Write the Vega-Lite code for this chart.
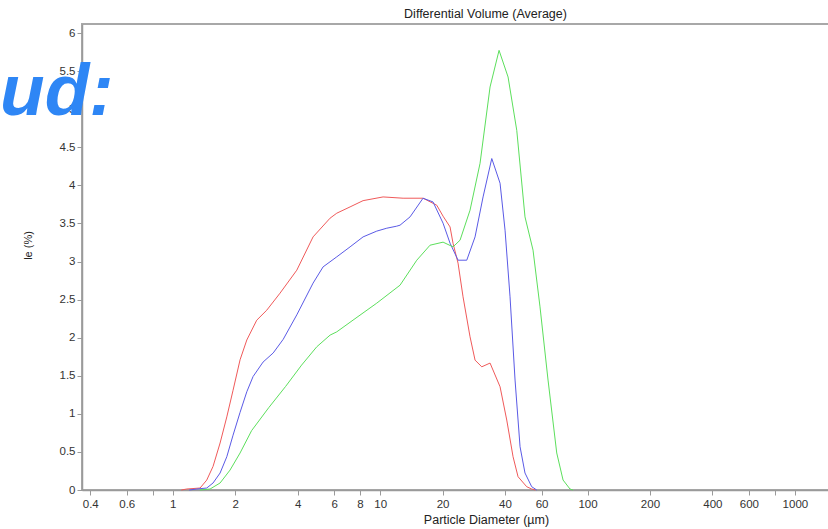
{
  "$schema": "https://vega.github.io/schema/vega-lite/v6.json",
  "width": 747,
  "height": 466,
  "autosize": {"type": "none"},
  "padding": {"left": 82, "top": 24, "right": 0, "bottom": 39},
  "background": "white",
  "config": {
    "view": {"stroke": "#a8a8a8", "strokeWidth": 2},
    "font": "Liberation Sans",
    "axis": {
      "grid": false,
      "domainColor": "#9a9a9a",
      "domainWidth": 1.5,
      "tickColor": "#9a9a9a",
      "tickSize": 5,
      "labelColor": "#333333",
      "labelFontSize": 11.5,
      "labelFont": "Liberation Sans",
      "titleFont": "Liberation Sans",
      "titleFontSize": 12.5,
      "titleFontWeight": "normal",
      "titleColor": "#222222"
    }
  },
  "title": {
    "text": "Differential Volume (Average)",
    "font": "Liberation Sans",
    "fontSize": 12.5,
    "fontWeight": "normal",
    "color": "#222222",
    "anchor": "middle",
    "dx": 30,
    "offset": 4
  },
  "datasets": {
    "psd": [
      {"s": "A", "d": 1.1, "v": 0},
      {"s": "A", "d": 1.168, "v": 0.013},
      {"s": "A", "d": 1.354, "v": 0.026},
      {"s": "A", "d": 1.458, "v": 0.13},
      {"s": "A", "d": 1.564, "v": 0.31},
      {"s": "A", "d": 1.691, "v": 0.617},
      {"s": "A", "d": 1.822, "v": 0.96},
      {"s": "A", "d": 1.953, "v": 1.31},
      {"s": "A", "d": 2.111, "v": 1.71},
      {"s": "A", "d": 2.275, "v": 1.97},
      {"s": "A", "d": 2.54, "v": 2.23},
      {"s": "A", "d": 2.84, "v": 2.362},
      {"s": "A", "d": 3.29, "v": 2.585},
      {"s": "A", "d": 3.963, "v": 2.887},
      {"s": "A", "d": 4.748, "v": 3.324},
      {"s": "A", "d": 5.735, "v": 3.57},
      {"s": "A", "d": 6.176, "v": 3.635},
      {"s": "A", "d": 7.161, "v": 3.718},
      {"s": "A", "d": 8.273, "v": 3.8},
      {"s": "A", "d": 10.33, "v": 3.849},
      {"s": "A", "d": 12.9, "v": 3.832},
      {"s": "A", "d": 16.1, "v": 3.832},
      {"s": "A", "d": 18.75, "v": 3.74},
      {"s": "A", "d": 20.11, "v": 3.596},
      {"s": "A", "d": 21.73, "v": 3.455},
      {"s": "A", "d": 22.46, "v": 3.241},
      {"s": "A", "d": 23.75, "v": 2.979},
      {"s": "A", "d": 25.1, "v": 2.537},
      {"s": "A", "d": 27.13, "v": 2.012},
      {"s": "A", "d": 28.68, "v": 1.706},
      {"s": "A", "d": 30.9, "v": 1.618},
      {"s": "A", "d": 33.88, "v": 1.667},
      {"s": "A", "d": 37.86, "v": 1.356},
      {"s": "A", "d": 40.78, "v": 0.919},
      {"s": "A", "d": 43.74, "v": 0.437},
      {"s": "A", "d": 46.23, "v": 0.175},
      {"s": "A", "d": 50.9, "v": 0.043},
      {"s": "A", "d": 53.8, "v": 0.013},
      {"s": "A", "d": 56, "v": 0},
      {"s": "B", "d": 1.2, "v": 0},
      {"s": "B", "d": 1.305, "v": 0.013},
      {"s": "B", "d": 1.458, "v": 0.026},
      {"s": "B", "d": 1.564, "v": 0.092},
      {"s": "B", "d": 1.691, "v": 0.223},
      {"s": "B", "d": 1.822, "v": 0.437},
      {"s": "B", "d": 1.953, "v": 0.72},
      {"s": "B", "d": 2.111, "v": 1.02},
      {"s": "B", "d": 2.275, "v": 1.29},
      {"s": "B", "d": 2.439, "v": 1.49},
      {"s": "B", "d": 2.725, "v": 1.68},
      {"s": "B", "d": 3.05, "v": 1.8},
      {"s": "B", "d": 3.41, "v": 1.98},
      {"s": "B", "d": 3.963, "v": 2.3},
      {"s": "B", "d": 4.748, "v": 2.717},
      {"s": "B", "d": 5.306, "v": 2.93},
      {"s": "B", "d": 6.176, "v": 3.062},
      {"s": "B", "d": 7.161, "v": 3.193},
      {"s": "B", "d": 8.273, "v": 3.324},
      {"s": "B", "d": 9.63, "v": 3.4},
      {"s": "B", "d": 10.76, "v": 3.438},
      {"s": "B", "d": 12.02, "v": 3.465},
      {"s": "B", "d": 12.47, "v": 3.478},
      {"s": "B", "d": 13.94, "v": 3.587},
      {"s": "B", "d": 16.1, "v": 3.832},
      {"s": "B", "d": 17.99, "v": 3.783},
      {"s": "B", "d": 20.11, "v": 3.504},
      {"s": "B", "d": 21.73, "v": 3.241},
      {"s": "B", "d": 23.75, "v": 3.018},
      {"s": "B", "d": 26.16, "v": 3.018},
      {"s": "B", "d": 28.68, "v": 3.324},
      {"s": "B", "d": 31.35, "v": 3.849},
      {"s": "B", "d": 34.53, "v": 4.353},
      {"s": "B", "d": 37.86, "v": 4.029},
      {"s": "B", "d": 40.02, "v": 3.412},
      {"s": "B", "d": 42.3, "v": 2.537},
      {"s": "B", "d": 44.72, "v": 1.444},
      {"s": "B", "d": 47.27, "v": 0.568},
      {"s": "B", "d": 49.94, "v": 0.223},
      {"s": "B", "d": 53.8, "v": 0.043},
      {"s": "B", "d": 56.89, "v": 0},
      {"s": "C", "d": 1.35, "v": 0},
      {"s": "C", "d": 1.513, "v": 0.013},
      {"s": "C", "d": 1.691, "v": 0.092},
      {"s": "C", "d": 1.889, "v": 0.262},
      {"s": "C", "d": 2.111, "v": 0.486},
      {"s": "C", "d": 2.4, "v": 0.78},
      {"s": "C", "d": 2.9, "v": 1.08},
      {"s": "C", "d": 3.5, "v": 1.36},
      {"s": "C", "d": 4.18, "v": 1.64},
      {"s": "C", "d": 4.948, "v": 1.881},
      {"s": "C", "d": 5.735, "v": 2.034},
      {"s": "C", "d": 6.176, "v": 2.077},
      {"s": "C", "d": 7.4, "v": 2.231},
      {"s": "C", "d": 9.63, "v": 2.454},
      {"s": "C", "d": 12.47, "v": 2.69},
      {"s": "C", "d": 15.02, "v": 3.018},
      {"s": "C", "d": 17.4, "v": 3.215},
      {"s": "C", "d": 20.11, "v": 3.255},
      {"s": "C", "d": 22.46, "v": 3.193},
      {"s": "C", "d": 24.28, "v": 3.281},
      {"s": "C", "d": 27.13, "v": 3.675},
      {"s": "C", "d": 30.32, "v": 4.291},
      {"s": "C", "d": 33.88, "v": 5.293},
      {"s": "C", "d": 37.44, "v": 5.774},
      {"s": "C", "d": 41.38, "v": 5.424},
      {"s": "C", "d": 45.57, "v": 4.724},
      {"s": "C", "d": 49.94, "v": 3.587},
      {"s": "C", "d": 54.6, "v": 3.15},
      {"s": "C", "d": 59.0, "v": 2.405},
      {"s": "C", "d": 64.5, "v": 1.444},
      {"s": "C", "d": 71.04, "v": 0.486},
      {"s": "C", "d": 76.2, "v": 0.131},
      {"s": "C", "d": 82.3, "v": 0.013},
      {"s": "C", "d": 85, "v": 0}
    ],
    "note": [
      {"label": "ud:", "d": 0.147, "v": 4.92}
    ]
  },
  "encoding": {
    "x": {
      "field": "d",
      "type": "quantitative",
      "scale": {"type": "log", "domain": [0.365, 1460], "nice": false},
      "axis": {
        "title": "Particle Diameter (µm)",
        "values": [0.4, 0.6, 0.8, 1, 2, 4, 6, 8, 10, 20, 40, 60, 100, 200, 400, 600, 800, 1000],
        "format": "~g",
        "labelExpr": "(datum.value == 0.8 || datum.value == 800) ? '' : datum.label",
        "labelOverlap": false,
        "labelFlush": false,
        "labelPadding": 3,
        "titlePadding": 4,
        "titleX": 404
      }
    },
    "y": {
      "field": "v",
      "type": "quantitative",
      "scale": {"domain": [0, 6.12], "nice": false, "zero": false},
      "axis": {
        "title": "le (%)",
        "values": [0, 0.5, 1, 1.5, 2, 2.5, 3, 3.5, 4, 4.5, 5, 5.5, 6],
        "format": "~g",
        "labelPadding": 2,
        "labelOverlap": false,
        "labelFlush": false,
        "titleX": -49,
        "titleY": 221,
        "titleFontSize": 11
      }
    }
  },
  "layer": [
    {
      "data": {"name": "psd"},
      "mark": {"type": "line", "strokeWidth": 1},
      "encoding": {
        "color": {
          "field": "s",
          "type": "nominal",
          "scale": {"domain": ["A", "B", "C"], "range": ["#f05a5a", "#5a5ae6", "#5cdf5c"]},
          "legend": null
        }
      }
    },
    {
      "data": {"name": "note"},
      "mark": {
        "type": "text",
        "align": "left",
        "baseline": "alphabetic",
        "font": "Liberation Sans",
        "fontSize": 73,
        "fontStyle": "italic",
        "fontWeight": "bold",
        "color": "#2e86f5"
      },
      "encoding": {
        "text": {"field": "label"}
      }
    }
  ]
}
